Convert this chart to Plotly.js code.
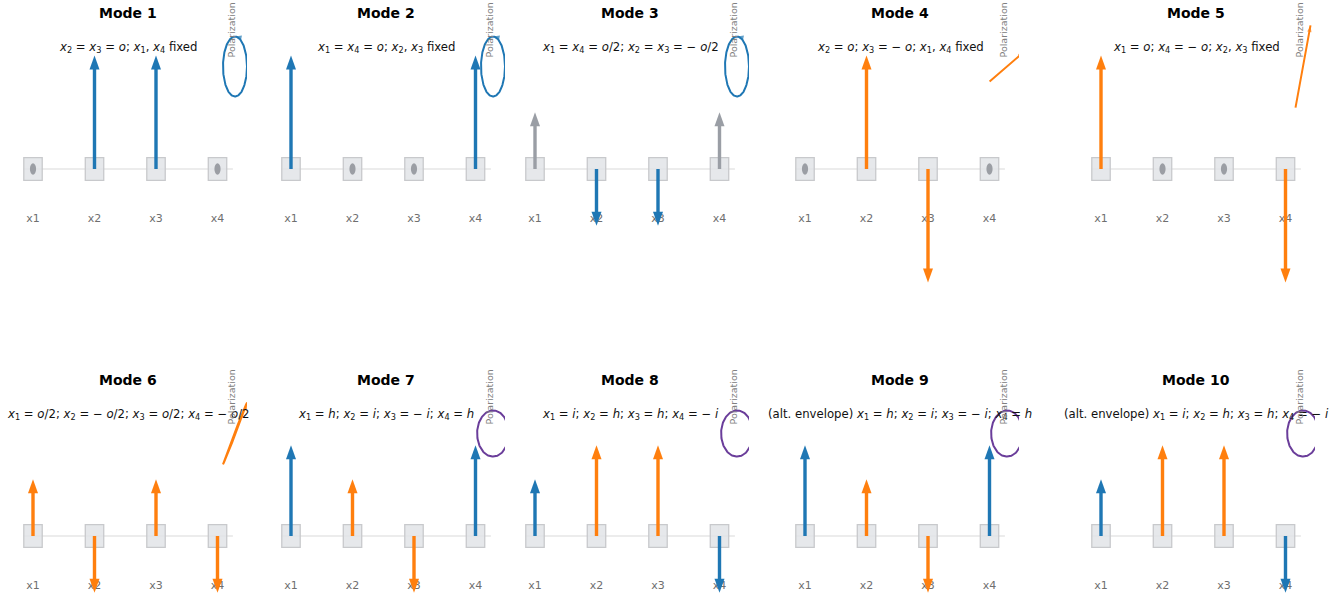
<!DOCTYPE html>
<html>
<head>
<meta charset="utf-8">
<script src="https://cdn.plot.ly/plotly-3.0.1.min.js"></script>
<style>
  html, body { margin: 0; padding: 0; background: #ffffff; }
  #chart { width: 1332px; height: 599px; }
</style>
</head>
<body>
<div id="chart"></div>
<script>
// ---- data -------------------------------------------------------------
const sites = ['x1', 'x2', 'x3', 'x4'];
const sitePositions = [1, 2, 3, 4];

const modeTitles = ['Mode 1', 'Mode 2', 'Mode 3', 'Mode 4', 'Mode 5',
                    'Mode 6', 'Mode 7', 'Mode 8', 'Mode 9', 'Mode 10'];

const S = '\u00a0';
const v = (n) => '<i>x</i><sub>' + n + '</sub>';
const modeRelations = [
  v(2) + ' = ' + v(3) + ' = <i>o</i>;' + S + v(1) + ', ' + v(4) + ' fixed',
  v(1) + ' = ' + v(4) + ' = <i>o</i>;' + S + v(2) + ', ' + v(3) + ' fixed',
  v(1) + ' = ' + v(4) + ' = <i>o</i>/2;' + S + v(2) + ' = ' + v(3) + ' = \u2212 <i>o</i>/2',
  v(2) + ' = <i>o</i>;' + S + v(3) + ' = \u2212 <i>o</i>;' + S + v(1) + ', ' + v(4) + ' fixed',
  v(1) + ' = <i>o</i>;' + S + v(4) + ' = \u2212 <i>o</i>;' + S + v(2) + ', ' + v(3) + ' fixed',
  v(1) + ' = <i>o</i>/2;' + S + v(2) + ' = \u2212 <i>o</i>/2;' + S + v(3) + ' = <i>o</i>/2;' + S + v(4) + ' = \u2212 <i>o</i>/2',
  v(1) + ' = <i>h</i>;' + S + v(2) + ' = <i>i</i>;' + S + v(3) + ' = \u2212 <i>i</i>;' + S + v(4) + ' = <i>h</i>',
  v(1) + ' = <i>i</i>;' + S + v(2) + ' = <i>h</i>;' + S + v(3) + ' = <i>h</i>;' + S + v(4) + ' = \u2212 <i>i</i>',
  '(alt. envelope) ' + v(1) + ' = <i>h</i>;' + S + v(2) + ' = <i>i</i>;' + S + v(3) + ' = \u2212 <i>i</i>;' + S + v(4) + ' = <i>h</i>',
  '(alt. envelope) ' + v(1) + ' = <i>i</i>;' + S + v(2) + ' = <i>h</i>;' + S + v(3) + ' = <i>h</i>;' + S + v(4) + ' = \u2212 <i>i</i>'
];

// displacement of each site (o = 1, h = 0.8, i = 0.5)
const amplitudes = [
  [0, 1, 1, 0],
  [1, 0, 0, 1],
  [0.5, -0.5, -0.5, 0.5],
  [0, 1, -1, 0],
  [1, 0, 0, -1],
  [0.5, -0.5, 0.5, -0.5],
  [0.8, 0.5, -0.5, 0.8],
  [0.5, 0.8, 0.8, -0.5],
  [0.8, 0.5, -0.5, 0.8],
  [0.5, 0.8, 0.8, -0.5]
];

const B = '#1f77b4', O = '#ff7f0e', G = '#9a9ea5';
const arrowColors = [
  [B, B, B, B], [B, B, B, B], [G, B, B, G], [O, O, O, O], [O, O, O, O],
  [O, O, O, O], [B, O, O, B], [B, O, O, B], [B, O, O, B], [B, O, O, B]
];

const fixedSites = [
  [1, 0, 0, 1], [0, 1, 1, 0], [0, 0, 0, 0], [1, 0, 0, 1], [0, 1, 1, 0],
  [0, 0, 0, 0], [0, 0, 0, 0], [0, 0, 0, 0], [0, 0, 0, 0], [0, 0, 0, 0]
];

// polarization ellipse of each mode: amplitudes along x / y and relative phase
const polAmpX  = [0.40, 0.40, 0.40, 0.58, 0.25, 0.40, 0.53, 0.53, 0.53, 0.53];
const polAmpY  = [1.00, 1.00, 1.00, 0.50, 1.37, 1.03, 0.77, 0.77, 0.77, 0.77];
const polPhase = [90, 90, 90, 0, 0, 3, 90, 90, 90, 90];
const polColors = [B, B, B, O, O, O, '#6a3d9a', '#6a3d9a', '#6a3d9a', '#6a3d9a'];
const polArrow = [true, true, true, true, true, true, false, false, false, false];

// ---- layout geometry --------------------------------------------------
const W = 1332, H = 599;
const colX1 = [33, 291, 535, 805, 1101];
const rowBase = [169, 536];
const unitX = 61.5, unitY = 113.5;
const xRange = [0.5, 4.6];
const yRanges = [[-1.1, 1.3], [-0.55, 1.3]];
const polUnit = 30;

const font = 'DejaVu Sans, Arial, sans-serif';
const clamp = (a) => Math.max(0, Math.min(1, a));

const layout = {
  width: W, height: H,
  margin: { l: 0, r: 0, t: 0, b: 0, pad: 0 },
  paper_bgcolor: '#ffffff', plot_bgcolor: 'rgba(0,0,0,0)',
  showlegend: false,
  font: { family: font },
  shapes: [], annotations: []
};
const traces = [];

function hiddenAxis(range, domain, anchor) {
  return { range: range, domain: domain, anchor: anchor, showgrid: false, zeroline: false,
           showticklabels: false, ticks: '', showline: false, fixedrange: true };
}

for (let m = 0; m < 10; m++) {
  const r = Math.floor(m / 5), c = m % 5;
  const n = m + 1, ni = m + 11;
  const xa = 'x' + (n === 1 ? '' : n), ya = 'y' + (n === 1 ? '' : n);
  const xi = 'x' + ni, yi = 'y' + ni;
  const base = rowBase[r], yR = yRanges[r];

  const left = colX1[c] + (xRange[0] - 1) * unitX;
  const right = colX1[c] + (xRange[1] - 1) * unitX;
  const top = base - yR[1] * unitY, bottom = base - yR[0] * unitY;
  layout['xaxis' + (n === 1 ? '' : n)] = hiddenAxis(xRange, [clamp(left / W), clamp(right / W)], ya);
  layout['yaxis' + (n === 1 ? '' : n)] = hiddenAxis(yR, [clamp(1 - bottom / H), clamp(1 - top / H)], xa);

  // inset for the polarization trace
  const x4px = colX1[c] + 3 * unitX;
  const cx = x4px + 17.5, cy = base - 102.5;
  const iL = x4px - 4, iR = x4px + 29.5, iT = base - 150, iB = base - 52;
  layout['xaxis' + ni] = hiddenAxis([(iL - cx) / polUnit, (iR - cx) / polUnit], [iL / W, iR / W], yi);
  layout['yaxis' + ni] = hiddenAxis([(cy - iB) / polUnit, (cy - iT) / polUnit], [1 - iB / H, 1 - iT / H], xi);

  // site labels
  traces.push({
    type: 'scatter', mode: 'text', xaxis: xa, yaxis: ya,
    x: sitePositions, y: sitePositions.map(() => -0.44), text: sites,
    textfont: { family: font, size: 11, color: '#6f6f6f' }, hoverinfo: 'skip'
  });

  // chain line, sites, fixed markers, displacement arrows
  layout.shapes.push({ type: 'line', xref: xa, yref: ya, layer: 'above',
    x0: 0.85, x1: 4.25, y0: 0, y1: 0, line: { color: '#d9d9d9', width: 1.2 } });
  sitePositions.forEach((k, j) => {
    layout.shapes.push({ type: 'rect', xref: xa, yref: ya, layer: 'above',
      x0: k - 0.15, x1: k + 0.15, y0: -0.1, y1: 0.1,
      fillcolor: 'rgba(226,228,232,0.85)', line: { color: '#c8c9cc', width: 1.3 } });
    if (fixedSites[m][j]) {
      layout.shapes.push({ type: 'circle', xref: xa, yref: ya, layer: 'above',
        x0: k - 0.05, x1: k + 0.05, y0: -0.05, y1: 0.05,
        fillcolor: '#9b9ea4', line: { width: 0 } });
    }
  });
  sitePositions.forEach((k, j) => {
    const a = amplitudes[m][j];
    if (a === 0) return;
    const sg = Math.sign(a);
    const col = arrowColors[m][j];
    layout.shapes.push({ type: 'line', xref: xa, yref: ya, layer: 'above',
      x0: k, x1: k, y0: 0, y1: a - sg * 10 / unitY, line: { color: col, width: 3.4 } });
    layout.shapes.push({ type: 'path', xref: xa, yref: ya, layer: 'above',
      xsizemode: 'pixel', ysizemode: 'pixel', xanchor: k, yanchor: a,
      path: sg > 0 ? 'M0,0 L-5,-14 L5,-14 Z' : 'M0,0 L-5,14 L5,14 Z',
      fillcolor: col, line: { width: 0 } });
  });

  // polarization trajectory
  const N = 160, ph = polPhase[m] * Math.PI / 180;
  const px = [], py = [];
  for (let s = 0; s <= N; s++) {
    const t = 2 * Math.PI * s / N;
    px.push(polAmpX[m] * Math.cos(t));
    py.push(polAmpY[m] * Math.cos(t - ph));
  }
  traces.push({ type: 'scatter', mode: 'lines', xaxis: xi, yaxis: yi, x: px, y: py,
    line: { color: polColors[m], width: 2 }, hoverinfo: 'skip' });
  if (polArrow[m]) {
    const t1 = ph, t0 = ph - 0.15;
    traces.push({ type: 'scatter', mode: 'markers', xaxis: xi, yaxis: yi,
      x: [polAmpX[m] * Math.cos(t0), polAmpX[m] * Math.cos(t1)],
      y: [polAmpY[m] * Math.cos(t0 - ph), polAmpY[m] * Math.cos(t1 - ph)],
      marker: { symbol: 'arrow', angleref: 'previous', size: [0, 7], color: polColors[m], line: { width: 0 } },
      hoverinfo: 'skip' });
  }

  // titles and labels
  layout.annotations.push({ xref: xa + ' domain', yref: 'paper', x: 0.5, y: 1 - (base - 156) / H,
    text: '<b>' + modeTitles[m] + '</b>', showarrow: false, xanchor: 'center', yanchor: 'middle',
    font: { family: font, size: 14, color: '#000000' } });
  layout.annotations.push({ xref: xa + ' domain', yref: 'paper', x: 0.5, y: 1 - (base - 122) / H,
    text: modeRelations[m], showarrow: false, xanchor: 'center', yanchor: 'middle',
    font: { family: font, size: 11.7, color: '#111111' } });
  layout.annotations.push({ xref: 'paper', yref: 'paper', x: (x4px + 13) / W, y: 1 - (base - 139) / H,
    text: 'Polarization', textangle: -90, showarrow: false, xanchor: 'center', yanchor: 'middle',
    font: { family: font, size: 9.5, color: '#808080' } });
}

Plotly.newPlot('chart', traces, layout, { staticPlot: true, displayModeBar: false });
</script>
</body>
</html>
